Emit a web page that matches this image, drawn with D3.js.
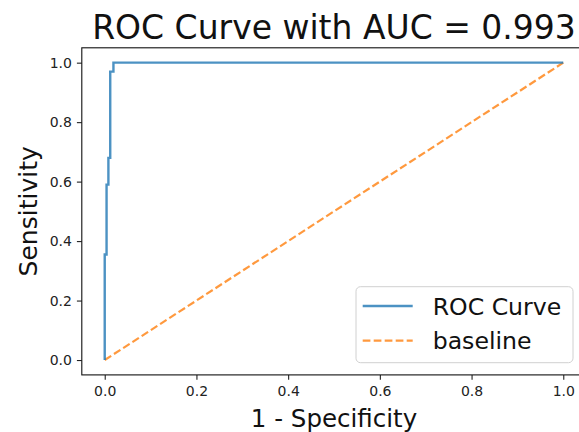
<!DOCTYPE html>
<html>
<head>
<meta charset="utf-8">
<script src="https://cdn.jsdelivr.net/npm/d3@7"></script>
<style>
  html, body { margin: 0; padding: 0; background: #fff; }
  svg { display: block; font-family: "DejaVu Sans", sans-serif; }
</style>
</head>
<body>
<svg id="chart"></svg>
<script>
// ROC points (false positive rate, true positive rate)
const fpr = [0, 0, 0.004, 0.004, 0.008, 0.008, 0.012, 0.012, 0.019, 0.019, 1]
const tpr = [0, 0.355, 0.355, 0.59, 0.59, 0.68, 0.68, 0.97, 0.97, 1, 1]
const baselineX = [0, 1]
const baselineY = [0, 1]

const xTicks = [0, 0.2, 0.4, 0.6, 0.8, 1.0]
const yTicks = [0, 0.2, 0.4, 0.6, 0.8, 1.0]
const seriesNames = ["ROC Curve", "baseline"]
const titleText = "ROC Curve with AUC = 0.993"
const xLabel = "1 - Specificity"
const yLabel = "Sensitivity"

const width = 579
const height = 432
const blue = "#1f77b4"
const orange = "#ff7f0e"

const svg = d3.select("#chart").attr("width", width).attr("height", height)

// axes box (right edge runs past the window, as in the picture)
const plotLeft = 81.8, plotRight = 586.2, plotTop = 47.8, plotBottom = 374.9

const x = d3.scaleLinear().domain([-0.05, 1.05]).range([plotLeft, plotRight])
const y = d3.scaleLinear().domain([-0.05, 1.05]).range([plotBottom, plotTop])

const tickLen = 4.9

const xAxis = svg.append("g")
    .attr("transform", `translate(0,${plotBottom})`)
    .call(d3.axisBottom(x).tickValues(xTicks).tickFormat(d3.format(".1f"))
        .tickSize(tickLen).tickPadding(6))
xAxis.select(".domain").remove()

const yAxis = svg.append("g")
    .attr("transform", `translate(${plotLeft},0)`)
    .call(d3.axisLeft(y).tickValues(yTicks).tickFormat(d3.format(".1f"))
        .tickSize(tickLen).tickPadding(5))
yAxis.select(".domain").remove()

svg.selectAll(".tick text")
    .attr("font-family", "DejaVu Sans")
    .attr("font-size", 14)
    .attr("fill", "#222")
svg.selectAll(".tick line").attr("stroke", "#222").attr("stroke-width", 1.1)

// lines
const line = d3.line().x(d => x(d[0])).y(d => y(d[1]))

svg.append("path")
    .datum(d3.zip(baselineX, baselineY))
    .attr("d", line)
    .attr("fill", "none")
    .attr("stroke", orange)
    .attr("stroke-opacity", 0.8)
    .attr("stroke-width", 2.2)
    .attr("stroke-dasharray", "7.7,3.3")

svg.append("path")
    .datum(d3.zip(fpr, tpr))
    .attr("d", line)
    .attr("fill", "none")
    .attr("stroke", blue)
    .attr("stroke-opacity", 0.8)
    .attr("stroke-width", 2.4)

// spines
svg.append("rect")
    .attr("x", plotLeft).attr("y", plotTop)
    .attr("width", plotRight - plotLeft).attr("height", plotBottom - plotTop)
    .attr("fill", "none")
    .attr("stroke", "#111")
    .attr("stroke-width", 1.1)

// title and labels
svg.append("text")
    .attr("x", (plotLeft + plotRight) / 2).attr("y", 39)
    .attr("text-anchor", "middle")
    .attr("font-size", 33)
    .attr("fill", "#111")
    .text(titleText)

svg.append("text")
    .attr("x", (plotLeft + plotRight) / 2).attr("y", 427)
    .attr("text-anchor", "middle")
    .attr("font-size", 24.5)
    .attr("fill", "#111")
    .text(xLabel)

svg.append("text")
    .attr("transform", `translate(37,${(plotTop + plotBottom) / 2}) rotate(-90)`)
    .attr("text-anchor", "middle")
    .attr("font-size", 25)
    .attr("fill", "#111")
    .text(yLabel)

// legend
const legend = svg.append("g")
legend.append("rect")
    .attr("x", 356).attr("y", 286.7)
    .attr("width", 217).attr("height", 76)
    .attr("rx", 4.5)
    .attr("fill", "#fff").attr("fill-opacity", 0.8)
    .attr("stroke", "#d0d0d0").attr("stroke-width", 1)

const legendItems = legend.selectAll("g.item")
    .data(seriesNames)
    .join("g")
    .attr("class", "item")
    .attr("transform", (d, i) => `translate(0,${306 + i * 34.7})`)

legendItems.append("line")
    .attr("x1", 362.7).attr("x2", 412.7)
    .attr("stroke", (d, i) => i === 0 ? blue : orange)
    .attr("stroke-opacity", 0.8)
    .attr("stroke-width", (d, i) => i === 0 ? 2.4 : 2.2)
    .attr("stroke-dasharray", (d, i) => i === 0 ? null : "7.7,3.3")

legendItems.append("text")
    .attr("x", 432.7)
    .attr("dy", "0.36em")
    .attr("font-size", 23.6)
    .attr("fill", "#111")
    .text(d => d)
</script>
</body>
</html>
